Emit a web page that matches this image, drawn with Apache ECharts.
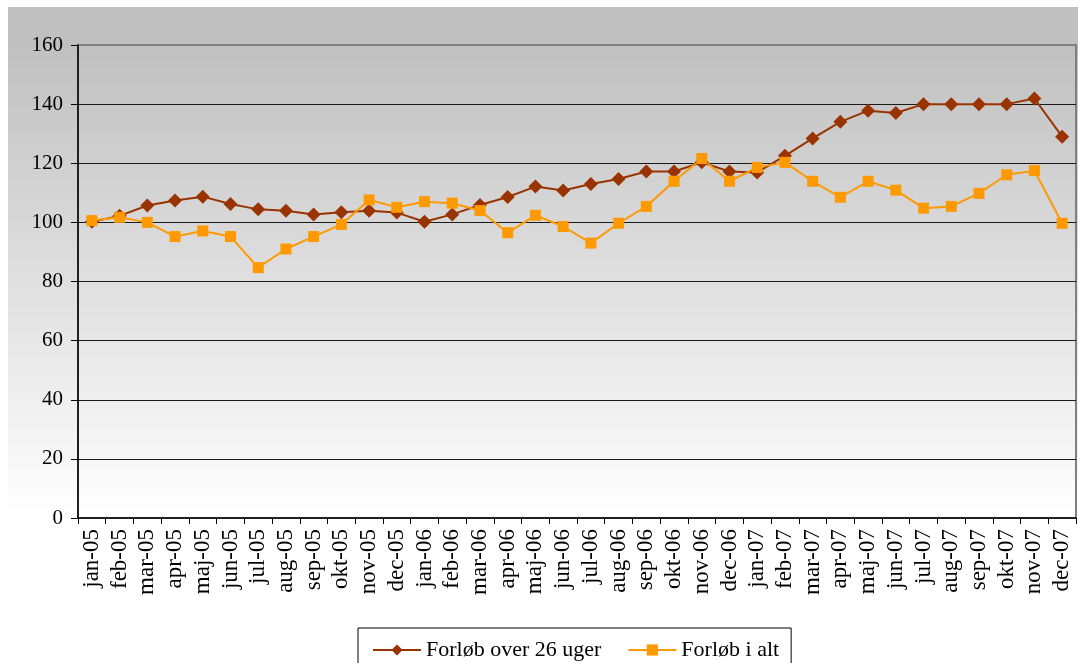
<!DOCTYPE html>
<html>
<head>
<meta charset="utf-8">
<script src="https://cdn.jsdelivr.net/npm/echarts@6/dist/echarts.min.js"></script>
<style>html,body{margin:0;padding:0;background:#fff;}#c{width:1078px;height:663px;}</style>
</head>
<body>
<div id="c"></div>
<script>
const categories = ['jan-05','feb-05','mar-05','apr-05','maj-05','jun-05','jul-05','aug-05','sep-05','okt-05','nov-05','dec-05',
  'jan-06','feb-06','mar-06','apr-06','maj-06','jun-06','jul-06','aug-06','sep-06','okt-06','nov-06','dec-06',
  'jan-07','feb-07','mar-07','apr-07','maj-07','jun-07','jul-07','aug-07','sep-07','okt-07','nov-07','dec-07'];
const over26 = [100.2, 102.2, 105.7, 107.4, 108.7, 106.2, 104.4, 103.9, 102.7, 103.4, 103.9, 103.3,
  100.2, 102.7, 105.9, 108.6, 112.1, 110.8, 113.0, 114.7, 117.2, 117.2, 120.3, 117.2,
  116.9, 122.5, 128.4, 134.0, 137.8, 137.0, 140.0, 140.0, 140.0, 140.0, 141.9, 129.0];
const iAlt = [100.6, 101.7, 100.0, 95.2, 97.1, 95.2, 84.7, 91.0, 95.2, 99.3, 107.6, 105.1,
  107.0, 106.5, 104.0, 96.5, 102.4, 98.6, 93.0, 99.7, 105.4, 113.9, 121.6, 113.9,
  118.6, 120.3, 113.9, 108.5, 113.9, 110.9, 104.8, 105.4, 109.8, 116.1, 117.5, 99.7];
const seriesNames = ['Forløb over 26 uger', 'Forløb i alt'];
const yTicks = { min: 0, max: 160, interval: 20 };

const serif = 'Liberation Serif';
const chart = echarts.init(document.getElementById('c'));
chart.setOption({
  animation: false,
  backgroundColor: '#ffffff',
  graphic: [{
    type: 'rect', silent: true, z: -100,
    shape: { x: 8, y: 7, width: 1070, height: 656 },
    style: {
      fill: new echarts.graphic.LinearGradient(0, 0, 0, 1, [
        { offset: 0, color: '#c0c0c0' },
        { offset: 0.058, color: '#c0c0c0' },
        { offset: 0.78, color: '#ffffff' },
        { offset: 1, color: '#ffffff' }
      ])
    }
  }],
  grid: {
    left: 78, right: 2, top: 45, bottom: 145,
    show: true, borderColor: '#808080', borderWidth: 2, backgroundColor: 'transparent'
  },
  xAxis: {
    type: 'category',
    data: categories,
    boundaryGap: true,
    axisLine: { lineStyle: { color: '#000', width: 1.5 } },
    axisTick: { show: true, interval: 0, length: 6, lineStyle: { color: '#000' } },
    axisLabel: { interval: 0, rotate: 90, margin: 11, color: '#000', fontFamily: serif, fontSize: 23 },
    splitLine: { show: false }
  },
  yAxis: {
    type: 'value',
    min: yTicks.min, max: yTicks.max, interval: yTicks.interval,
    axisLine: { show: true, lineStyle: { color: '#000', width: 1.5 } },
    axisTick: { show: true, length: 7, lineStyle: { color: '#000' } },
    axisLabel: { margin: 15, color: '#000', fontFamily: serif, fontSize: 21 },
    splitLine: { show: true, showMaxLine: false, showMinLine: false, lineStyle: { color: '#1a1a1a', width: 1 } }
  },
  legend: {
    left: 358, top: 628,
    padding: [11, 12, 12, 14],
    itemWidth: 48, itemHeight: 14, itemGap: 26,
    backgroundColor: '#ffffff',
    borderColor: '#000', borderWidth: 1,
    textStyle: { color: '#000', fontFamily: serif, fontSize: 22 },
    data: seriesNames
  },
  series: [
    {
      name: seriesNames[0], type: 'line', data: over26,
      symbol: 'diamond', symbolSize: 14,
      itemStyle: { color: '#993300' },
      lineStyle: { color: '#993300', width: 2 }
    },
    {
      name: seriesNames[1], type: 'line', data: iAlt,
      symbol: 'rect', symbolSize: 11,
      itemStyle: { color: '#ff9900' },
      lineStyle: { color: '#ff9900', width: 2 }
    }
  ]
});
</script>
</body>
</html>
